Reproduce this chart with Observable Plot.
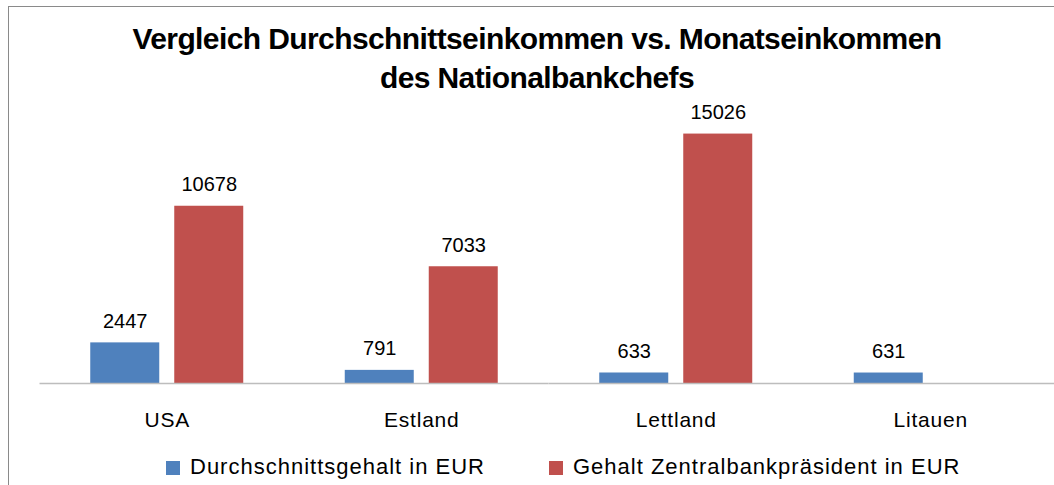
<!DOCTYPE html>
<html>
<head>
<meta charset="utf-8">
<script src="https://cdn.jsdelivr.net/npm/d3@7"></script>
<script src="https://cdn.jsdelivr.net/npm/@observablehq/plot@0.6"></script>
<style>
  html, body { margin: 0; padding: 0; background: #fff; }
  #wrap { position: relative; width: 1054px; height: 485px; overflow: hidden; font-family: "Liberation Sans", Arial, sans-serif; }
  #frame { position: absolute; left: 8px; top: 6px; width: 1100px; height: 600px; border-left: 1.5px solid #8a8a8a; border-top: 1.5px solid #8a8a8a; box-sizing: border-box; }
  #title { position: absolute; left: 8px; width: 1058px; top: 19px; text-align: center; font-weight: bold; font-size: 30px; line-height: 39px; letter-spacing: -0.6px; color: #000; }
  #chart { position: absolute; left: 0; top: 100px; }
  #chart g[aria-label="fx-axis tick label"] text { letter-spacing: 0.8px; }
  .leg { position: absolute; top: 456px; font-size: 22px; line-height: 22px; letter-spacing: 1px; color: #000; white-space: nowrap; }
  .sw { position: absolute; width: 14px; height: 14px; top: 461px; }
</style>
</head>
<body>
<div id="wrap">
  <div id="frame"></div>
  <div id="title">Vergleich Durchschnittseinkommen vs. Monatseinkommen<br>des Nationalbankchefs</div>
  <div id="chart"></div>
  <div id="legend"></div>
</div>
<script>
const countries = ["USA", "Estland", "Lettland", "Litauen"];
const seriesNames = ["Durchschnittsgehalt in EUR", "Gehalt Zentralbankpräsident in EUR"];
const avgSalary = [2447, 791, 633, 631];
const chiefSalary = [10678, 7033, 15026, null];
const seriesColors = ["#4F81BD", "#C0504D"];

const data = [];
countries.forEach((c, i) => {
  if (avgSalary[i] != null) data.push({country: c, series: seriesNames[0], value: avgSalary[i]});
  if (chiefSalary[i] != null) data.push({country: c, series: seriesNames[1], value: chiefSalary[i]});
});

const chart = Plot.plot({
  width: 1054,
  height: 340,
  marginTop: 17.4,
  marginBottom: 57,
  marginLeft: 39.5,
  marginRight: 0,
  style: {fontFamily: "'Liberation Sans', Arial, sans-serif", fontSize: "21px", color: "#000", background: "transparent"},
  fx: {domain: countries, range: [39.5, 1057.5], padding: 0, round: false, axis: null, label: null},
  x: {domain: seriesNames, paddingInner: 0.1786, paddingOuter: 0.6042, round: false, axis: null},
  y: {domain: [0, 16000], axis: null},
  color: {domain: seriesNames, range: seriesColors},
  marks: [
    Plot.barY(data, {fx: "country", x: "series", y: "value", fill: "series", inset: 0}),
    Plot.ruleY([0], {stroke: "#bdbdbd", strokeWidth: 1.3}),
    Plot.text(data, {fx: "country", x: "series", y: "value", text: d => String(d.value), lineAnchor: "bottom", dy: -15, fontSize: 20, fill: "#000"}),
    Plot.axisFx({anchor: "bottom", tickSize: 0, tickPadding: 29, label: null, fontSize: 21, fill: "#000"})
  ]
});
document.getElementById("chart").appendChild(chart);

// legend (HTML)
const legendItems = [
  {name: seriesNames[0], color: seriesColors[0], sx: 166, tx: 190},
  {name: seriesNames[1], color: seriesColors[1], sx: 549, tx: 573}
];
const leg = document.getElementById("legend");
legendItems.forEach(it => {
  const sw = document.createElement("div");
  sw.className = "sw";
  sw.style.left = it.sx + "px";
  sw.style.background = it.color;
  leg.appendChild(sw);
  const t = document.createElement("div");
  t.className = "leg";
  t.style.left = it.tx + "px";
  t.textContent = it.name;
  leg.appendChild(t);
});
</script>
</body>
</html>
